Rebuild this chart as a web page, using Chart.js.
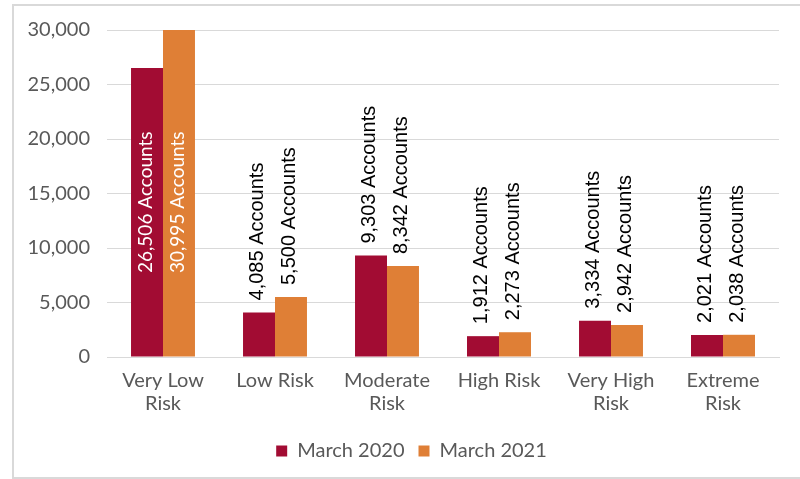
<!DOCTYPE html>
<html>
<head>
<meta charset="utf-8">
<script src="https://cdn.jsdelivr.net/npm/chart.js@4.4.1/dist/chart.umd.min.js"></script>
<style>
    html, body { margin: 0; padding: 0; background: #fff; overflow: hidden; }
    #frame {
        position: absolute; left: 12px; top: 4px; width: 820px; height: 471px;
        border: 2px solid #d9d9d9; border-right: none;
    }
    #chart { position: absolute; left: 0; top: 0; }
</style>
</head>
<body>
<div id="frame"></div>
<canvas id="chart" width="800" height="479"></canvas>
<script>
// Daten
const categories = [['Very Low', 'Risk'], 'Low Risk', ['Moderate', 'Risk'], 'High Risk', ['Very High', 'Risk'], ['Extreme', 'Risk']];
const march2020 = [26506, 4085, 9303, 1912, 3334, 2021];
const march2021 = [30995, 5500, 8342, 2273, 2942, 2038];
const yTicks = [0, 5000, 10000, 15000, 20000, 25000, 30000];

const red = '#A20C33';
const orange = '#DF7F36';
const greyText = '#595959';

// Beschriftungen an den Balken (gedreht)
const barLabels = {
    id: 'barLabels',
    afterDatasetsDraw(chart) {
        const ctx = chart.ctx;
        const yScale = chart.scales.y;
        chart.data.datasets.forEach((ds, di) => {
            const meta = chart.getDatasetMeta(di);
            meta.data.forEach((bar, i) => {
                const value = ds.data[i];
                const text = value.toLocaleString('en-US') + ' Accounts';
                ctx.save();
                ctx.textBaseline = 'middle';
                if (i === 0) {
                    // innen, weiss
                    ctx.font = '19px Lato, sans-serif';
                    ctx.fillStyle = '#fff';
                    ctx.translate(bar.x - 1, yScale.getPixelForValue(14200));
                    ctx.rotate(-Math.PI / 2);
                    ctx.textAlign = 'center';
                } else {
                    ctx.font = '20px "Liberation Sans", Arial, sans-serif';
                    ctx.fillStyle = '#000';
                    ctx.translate(bar.x - 2, bar.y - 12);
                    ctx.rotate(-Math.PI / 2);
                    ctx.textAlign = 'left';
                }
                ctx.fillText(text, 0, 0);
                ctx.restore();
            });
        });
    }
};

// Legende etwas nach rechts schieben
const legendShift = {
    id: 'legendShift',
    afterLayout(chart) {
        chart.legend.left += 22;
        chart.legend.right += 22;
    }
};

new Chart(document.getElementById('chart'), {
    type: 'bar',
    data: {
        labels: categories,
        datasets: [
            { label: 'March 2020', data: march2020, backgroundColor: red },
            { label: 'March 2021', data: march2021, backgroundColor: orange }
        ]
    },
    options: {
        responsive: false,
        animation: false,
        devicePixelRatio: 1,
        categoryPercentage: 0.571,
        barPercentage: 1,
        layout: { padding: { top: 30, right: 21, bottom: 8, left: 0 } },
        plugins: {
            legend: {
                position: 'bottom',
                labels: {
                    boxWidth: 11,
                    boxHeight: 11,
                    padding: 14,
                    color: greyText,
                    font: { family: 'Lato', size: 20 }
                }
            },
            tooltip: { enabled: false }
        },
        scales: {
            x: {
                grid: { display: false, drawTicks: false },
                border: { color: '#d9d9d9', width: 1 },
                ticks: {
                    color: greyText,
                    padding: 12,
                    maxRotation: 0,
                    font: { family: 'Lato', size: 20, lineHeight: 1.15 }
                },
                afterFit(scale) { scale.height = 70; }
            },
            y: {
                min: 0,
                max: 30000,
                afterBuildTicks(scale) { scale.ticks = yTicks.map(v => ({ value: v })); },
                grid: { color: '#d9d9d9', drawTicks: false },
                border: { display: false },
                ticks: {
                    color: greyText,
                    padding: 17,
                    font: { family: 'Lato', size: 20 },
                    callback: v => v.toLocaleString('en-US')
                },
                afterFit(scale) { scale.width = 107; }
            }
        }
    },
    plugins: [barLabels, legendShift]
});
</script>
</body>
</html>
